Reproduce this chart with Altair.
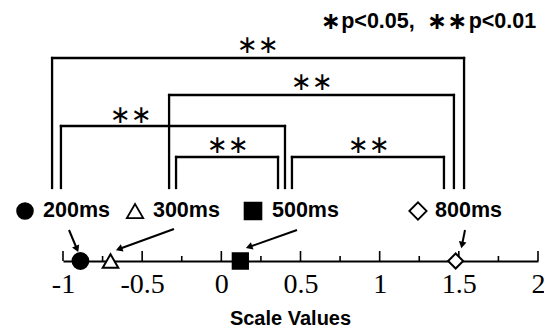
import altair as alt
import pandas as pd
import numpy as np

# ---- data ----
conditions = ["200ms", "300ms", "500ms", "800ms"]
scale_values = [-0.89, -0.70, 0.12, 1.48]

major_ticks = [-1, -0.5, 0, 0.5, 1, 1.5, 2]
minor_ticks = [-0.75, -0.25, 0.25, 0.75, 1.25, 1.75]

legend_symbol_x = [-1.24, -0.545, 0.20, 1.242]
legend_text_x = [-1.126, -0.432, 0.32, 1.35]
legend_level = 50

bracket_left = [-1.069, -0.330, -1.013, -0.286, 0.446]
bracket_right = [1.533, 1.469, 0.402, 0.358, 1.406]
bracket_top = [203, 166, 135, 104, 104]
bracket_bottom = 73
star_x = [0.232, 0.573, -0.571, 0.042, 0.933]
star_level = [216, 179, 146, 116, 116]
star_label = "\u2217\u2217"

arrow_from_x = [-0.962, -0.299, 0.478, 1.539]
arrow_from_y = [31, 32, 31, 31]
arrow_to_x = [-0.912, -0.646, 0.175, 1.520]
arrow_to_y = [12, 12, 14, 16]

note_star_text = ["\u2217", "\u2217\u2217"]
note_star_x = [0.690, 1.425]
note_text = ["p<0.05,", "p<0.01"]
note_x = [0.757, 1.562]
note_level = 239

# ---- layout ----
W, H = 475, 253
PX = W / 3.0

xs = alt.Scale(domain=[-1, 2], nice=False, zero=False)
ys = alt.Scale(domain=[0, H], nice=False, zero=False)
axis = alt.Axis(values=major_ticks, ticks=False, grid=False, domain=True,
                domainColor="black", domainWidth=2,
                labelFont="Liberation Serif", labelFontSize=28, labelColor="black",
                labelPadding=9, labelFlush=False, labelOverlap=False,
                labelExpr="(datum.value < 0 ? '-' : '') + format(abs(datum.value), '')",
                title="Scale Values", titleFont="Liberation Sans", titleFontSize=20,
                titleFontWeight="bold", titleColor="black", titleX=227, titleY=57,
                titleBaseline="middle", titleAlign="center")

def X(f):
    return alt.X(f, type="quantitative", scale=xs, axis=axis)

def Y(f):
    return alt.Y(f, type="quantitative", scale=ys, axis=None)

# ticks
ticks = pd.DataFrame({
    "v": major_ticks + minor_ticks,
    "kind": ["major"] * len(major_ticks) + ["minor"] * len(minor_ticks),
})
ticks["y0"] = 0
ticks["y1"] = np.where(ticks["kind"] == "major", 10, 5)
tick_layer = alt.Chart(ticks).mark_rule(color="black", strokeWidth=1.6).encode(
    x=X("v"), y=Y("y0"), y2="y1")

# bracket segments
segs = []
for l, r, t in zip(bracket_left, bracket_right, bracket_top):
    segs.append({"x": l, "x2": r, "y": t, "y2": t})
    segs.append({"x": l, "x2": l, "y": bracket_bottom, "y2": t})
    segs.append({"x": r, "x2": r, "y": bracket_bottom, "y2": t})
segs = pd.DataFrame(segs)
bracket_layer = alt.Chart(segs).mark_rule(color="black", strokeWidth=2.3, strokeCap="square").encode(
    x=X("x"), x2="x2", y=Y("y"), y2="y2")

stars = pd.DataFrame({"x": star_x, "y": star_level, "t": [star_label] * len(star_x)})
star_layer = alt.Chart(stars).mark_text(font="DejaVu Sans", fontSize=25, color="black",
                                        align="center", baseline="middle").encode(
    x=X("x"), y=Y("y"), text="t")

# arrows
arr = pd.DataFrame({"x": arrow_from_x, "y": arrow_from_y, "x2": arrow_to_x, "y2": arrow_to_y})
dxp = (arr["x2"] - arr["x"]) * PX
dyp = -(arr["y2"] - arr["y"])
arr["angle"] = (np.degrees(np.arctan2(dxp, -dyp)) + 360) % 360
shaft_layer = alt.Chart(arr).mark_rule(color="black", strokeWidth=2).encode(
    x=X("x"), x2="x2", y=Y("y"), y2="y2")
head_layer = alt.Chart(arr).mark_point(shape="triangle-up", filled=True, color="black",
                                       size=60, opacity=1).encode(
    x=X("x2"), y=Y("y2"), angle=alt.Angle("angle:Q", scale=None))

shape_scale = alt.Scale(domain=conditions, range=["circle", "triangle-up", "square", "diamond"])
fill_scale = alt.Scale(domain=conditions, range=["black", "white", "black", "white"])

pts = pd.DataFrame({"c": conditions, "x": scale_values, "y": [0] * 4})
point_layer = alt.Chart(pts).mark_point(filled=True, stroke="black", strokeWidth=2, opacity=1).encode(
    x=X("x"), y=Y("y"),
    shape=alt.Shape("c:N", scale=shape_scale, legend=None),
    fill=alt.Fill("c:N", scale=fill_scale, legend=None),
    size=alt.Size("c:N", scale=alt.Scale(domain=conditions, range=[250, 225, 256, 361]), legend=None))

leg = pd.DataFrame({"c": conditions, "x": legend_symbol_x, "tx": legend_text_x,
                    "y": [legend_level] * 4})
leg_sym_layer = alt.Chart(leg).mark_point(filled=True, stroke="black", strokeWidth=1.8, opacity=1).encode(
    x=X("x"), y=Y("y"),
    shape=alt.Shape("c:N", scale=shape_scale, legend=None),
    fill=alt.Fill("c:N", scale=fill_scale, legend=None),
    size=alt.Size("c:N", scale=alt.Scale(domain=conditions, range=[250, 300, 210, 300]), legend=None))
leg_txt_layer = alt.Chart(leg).mark_text(font="Liberation Sans", fontSize=21.5, fontWeight="bold",
                                         color="black", align="left", baseline="middle").encode(
    x=X("tx"), y=Y("y"), text="c:N")

note_stars = pd.DataFrame({"t": note_star_text, "x": note_star_x, "y": [note_level] * 2})
note_star_layer = alt.Chart(note_stars).mark_text(font="DejaVu Sans", fontSize=24, fontWeight="bold",
                                                  color="black", align="center",
                                                  baseline="middle").encode(
    x=X("x"), y=Y("y"), text="t")
notes = pd.DataFrame({"t": note_text, "x": note_x, "y": [note_level] * 2})
note_layer = alt.Chart(notes).mark_text(font="Liberation Sans", fontSize=21.5,
                                        fontWeight="bold", color="black", align="left",
                                        baseline="middle").encode(
    x=X("x"), y=Y("y"), text="t")

chart = alt.layer(tick_layer, bracket_layer, star_layer, shaft_layer, head_layer,
                  point_layer, leg_sym_layer, leg_txt_layer, note_star_layer, note_layer).resolve_scale(
    shape="independent", fill="independent", size="independent"
).properties(
    width=W, height=H, autosize="none",
    padding={"left": 55, "top": 0, "right": 6, "bottom": 66},
    background="white",
).configure_view(stroke=None)

chart.save("out.html", embed_options={"renderer": "svg", "actions": False})
